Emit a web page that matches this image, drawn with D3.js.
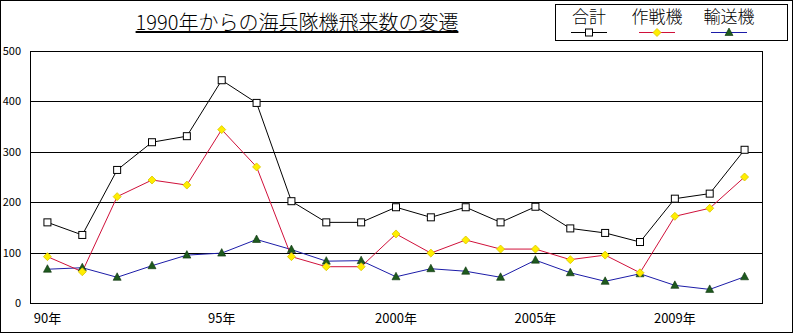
<!DOCTYPE html>
<html><head><meta charset="utf-8">
<script src="https://cdn.jsdelivr.net/npm/d3@7"></script>
<style>body{margin:0;background:#fff}svg{display:block}</style>
</head><body>
<svg id="c" width="794" height="334"></svg>
<script>
const categories = ["1990","1991","1992","1993","1994","1995","1996","1997","1998","1999","2000","2001","2002","2003","2005","2006","2007","2008","2009","2010","2011"];
const tickLabels = ["90年","","","","","95年","","","","","2000年","","","","2005年","","","","2009年","",""];
const total = [160,135,264,319,331,442,397,202,160,160,190,170,190,160,191,148,139,121,207,217,304];
const combat = [92,62,211,244,234,344,270,92,72,72,137,99,125,107,107,86,95,60,172,188,250];
const transport = [67,70,51,74,95,99,126,106,83,84,52,68,63,51,85,60,43,58,35,27,52];
const yTicks = [0,100,200,300,400,500];
const seriesNames = ["合計","作戦機","輸送機"];

const svg = d3.select("#c");
const font = "'MS PGothic','Noto Sans CJK JP',sans-serif";
svg.append("rect").attr("x",0.5).attr("y",0.5).attr("width",792).attr("height",332).attr("fill","#fff").attr("stroke","#000");

const L=30,R=762,T=51,B=303;
const x = d3.scaleBand().domain(categories).range([L,R]);
const y = d3.scaleLinear().domain([0,500]).range([B,T]);
const cx = d => x(d)+x.bandwidth()/2;

// grid
svg.append("g").selectAll("line").data(yTicks).join("line")
  .attr("x1",L).attr("x2",R).attr("y1",d=>Math.round(y(d))+0.5).attr("y2",d=>Math.round(y(d))+0.5)
  .attr("stroke","#000");
svg.append("rect").attr("x",L+0.5).attr("y",Math.round(T)+0.5).attr("width",R-L).attr("height",Math.round(B)-Math.round(T))
  .attr("fill","none").attr("stroke","#000");

// y labels
const yAxis = d3.axisLeft(y).tickValues(yTicks).tickSize(0).tickPadding(0);
const gy = svg.append("g").attr("transform","translate(21,0)").call(yAxis);
gy.select(".domain").remove();
gy.selectAll("text").attr("font-family",font).attr("font-size",11).attr("fill","#000").attr("dy","0.32em");

// x labels
const xAxis = d3.axisBottom(x).tickSize(0).tickPadding(0).tickFormat((d,i)=>tickLabels[i]);
const gx = svg.append("g").attr("transform",`translate(0,${B+11})`).call(xAxis);
gx.select(".domain").remove();
gx.selectAll("text").attr("font-family",font).attr("font-size",13).attr("fill","#000");

const series = [
  {name:seriesNames[0], vals:total, color:"#000", marker:"square"},
  {name:seriesNames[1], vals:combat, color:"#d0103a", marker:"diamond"},
  {name:seriesNames[2], vals:transport, color:"#1c1ca8", marker:"triangle"}
];
function drawMarker(g, type, px, py){
  if(type==="square") g.append("rect").attr("x",px-3.5).attr("y",py-3.5).attr("width",7).attr("height",7).attr("fill","#fff").attr("stroke","#000");
  else if(type==="diamond") g.append("path").attr("d",`M${px},${py-4}L${px+4},${py}L${px},${py+4}L${px-4},${py}Z`).attr("fill","#ffee00").attr("stroke","#d8c400").attr("stroke-width",0.8);
  else g.append("path").attr("d",`M${px},${py-4.5}L${px+4},${py+3}L${px-4},${py+3}Z`).attr("fill","#1e5a1e").attr("stroke","#0a300a").attr("stroke-width",0.6);
}
const line = d3.line().x((d,i)=>cx(categories[i])).y(d=>y(d));
series.slice().reverse().forEach(s=>{
  svg.append("path").datum(s.vals).attr("d",line).attr("fill","none").attr("stroke",s.color).attr("stroke-width",1);
});
series.slice().reverse().forEach(s=>{
  const g = svg.append("g");
  s.vals.forEach((v,i)=>drawMarker(g,s.marker,cx(categories[i]),y(v)));
});

// title
svg.append("text").attr("x",297).attr("y",30).attr("text-anchor","middle")
  .attr("font-family",font).attr("font-size",20).attr("font-weight",300).attr("text-decoration","underline").text("1990年からの海兵隊機飛来数の変遷");

// legend
svg.append("rect").attr("x",555.5).attr("y",4.5).attr("width",232).attr("height",36).attr("fill","#fff").attr("stroke","#000");
const lx = [589,657,729];
series.forEach((s,i)=>{
  svg.append("text").attr("x",lx[i]).attr("y",23).attr("text-anchor","middle").attr("font-family",font).attr("font-size",17).attr("font-weight",300).text(s.name);
  svg.append("line").attr("x1",lx[i]-18).attr("x2",lx[i]+18).attr("y1",32.5).attr("y2",32.5).attr("stroke",s.color);
  drawMarker(svg,s.marker,lx[i],32.5);
});
</script>
</body></html>
